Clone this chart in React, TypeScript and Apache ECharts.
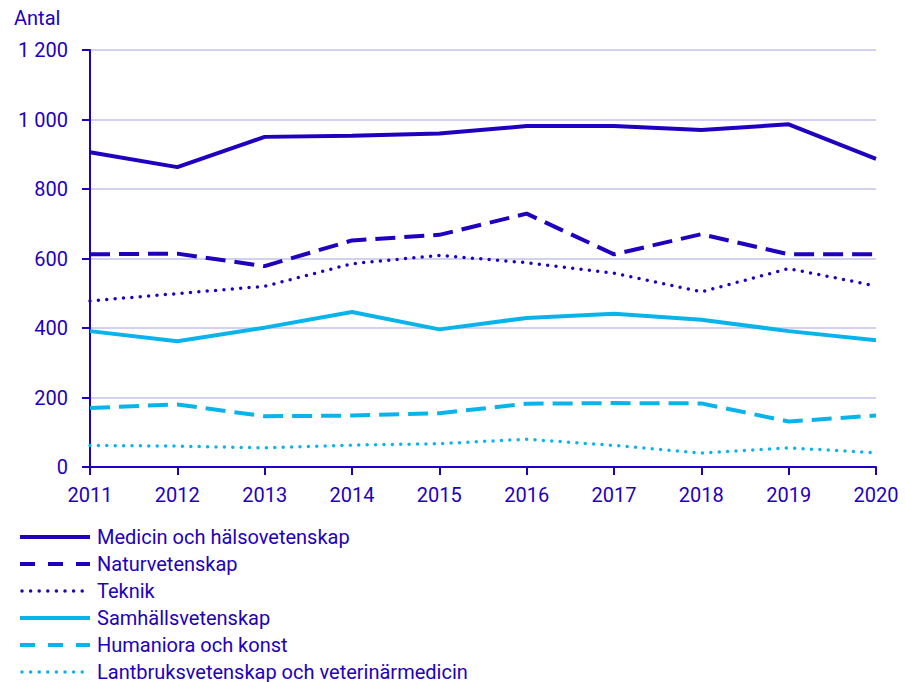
import React, { useEffect, useRef } from "react";
import * as echarts from "echarts";

const years = ["2011", "2012", "2013", "2014", "2015", "2016", "2017", "2018", "2019", "2020"];
const medicin = [906, 863, 950, 953, 960, 981, 981, 970, 986, 887];
const natur = [612, 614, 578, 652, 668, 729, 612, 670, 612, 612];
const teknik = [478, 499, 520, 585, 609, 588, 558, 504, 571, 521];
const samhalle = [391, 362, 401, 446, 396, 429, 441, 424, 391, 365];
const humaniora = [170, 180, 146, 148, 155, 182, 184, 183, 131, 148];
const lantbruk = [62, 60, 55, 63, 67, 80, 62, 40, 55, 41];

const names = [
  "Medicin och hälsovetenskap",
  "Naturvetenskap",
  "Teknik",
  "Samhällsvetenskap",
  "Humaniora och konst",
  "Lantbruksvetenskap och veterinärmedicin",
];

const DARK = "#1E00BE";
const LIGHT = "#0AB4EB";
const FONT = "Roboto";

export default function App() {
  const ref = useRef<HTMLDivElement>(null);
  useEffect(() => {
    document.body.style.margin = "0";
    const chart = echarts.init(ref.current!, null, { renderer: "svg" });
    const kinds = ["solid", "dash", "dot", "solid", "dash", "dot"];
    const colors = [DARK, DARK, DARK, LIGHT, LIGHT, LIGHT];
    const datas = [medicin, natur, teknik, samhalle, humaniora, lantbruk];
    const seriesStyle = (color: string, kind: string): any => {
      const ls: any = { color, width: 4 };
      if (kind === "dash") { ls.type = [20, 9]; ls.cap = "butt"; }
      if (kind === "dot") { ls.type = [0, 8.4]; ls.cap = "round"; ls.width = 3.5; }
      return ls;
    };
    const legendGraphics: any[] = [];
    names.forEach((n, i) => {
      const y = 537 + i * 27;
      const kind = kinds[i];
      const st: any = { stroke: colors[i], lineWidth: 4, lineCap: "butt" };
      let x1 = 20, x2 = 90;
      if (kind === "dash") { st.lineDash = [15, 13]; }
      if (kind === "dot") { st.lineDash = [0, 8.6]; st.lineCap = "round"; st.lineWidth = 3.5; x1 = 22; }
      legendGraphics.push({ type: "line", shape: { x1, y1: y, x2, y2: y }, style: st, silent: true });
      legendGraphics.push({
        type: "text", x: 97, y,
        style: { text: n, fill: DARK, font: `20px ${FONT}`, verticalAlign: "middle", align: "left" },
        silent: true,
      });
    });
    chart.setOption({
      animation: false,
      textStyle: { fontFamily: FONT },
      grid: { left: 90, right: 29, top: 50, bottom: 215, containLabel: false },
      graphic: [
        { type: "text", left: 14, top: 8, style: { text: "Antal", fill: DARK, font: `20px ${FONT}` } },
        ...legendGraphics,
      ],
      xAxis: {
        type: "category", data: years, boundaryGap: false,
        axisLine: { lineStyle: { color: DARK, width: 2 } },
        axisTick: { show: true, length: 8, lineStyle: { color: DARK, width: 2 } },
        axisLabel: { color: DARK, fontSize: 20, margin: 18, fontFamily: FONT },
        splitLine: { show: false },
      },
      yAxis: {
        type: "value", min: 0, max: 1200, interval: 200,
        axisLine: { show: true, lineStyle: { color: DARK, width: 2 } },
        axisTick: { show: true, length: 8, lineStyle: { color: DARK, width: 2 } },
        axisLabel: {
          color: DARK, fontSize: 20, margin: 22, fontFamily: FONT,
          formatter: (v: number) => String(v).replace(/\B(?=(\d{3})+(?!\d))/g, " "),
        },
        splitLine: { lineStyle: { color: "#D2D2F0", width: 2 } },
      },
      series: names.map((n, i) => ({
        name: n, type: "line", data: datas[i], symbol: "none",
        lineStyle: seriesStyle(colors[i], kinds[i]), itemStyle: { color: colors[i] },
        emphasis: { disabled: true },
      })),
    });
    return () => chart.dispose();
  }, []);
  return <div ref={ref} style={{ width: 905, height: 682 }} />;
}
